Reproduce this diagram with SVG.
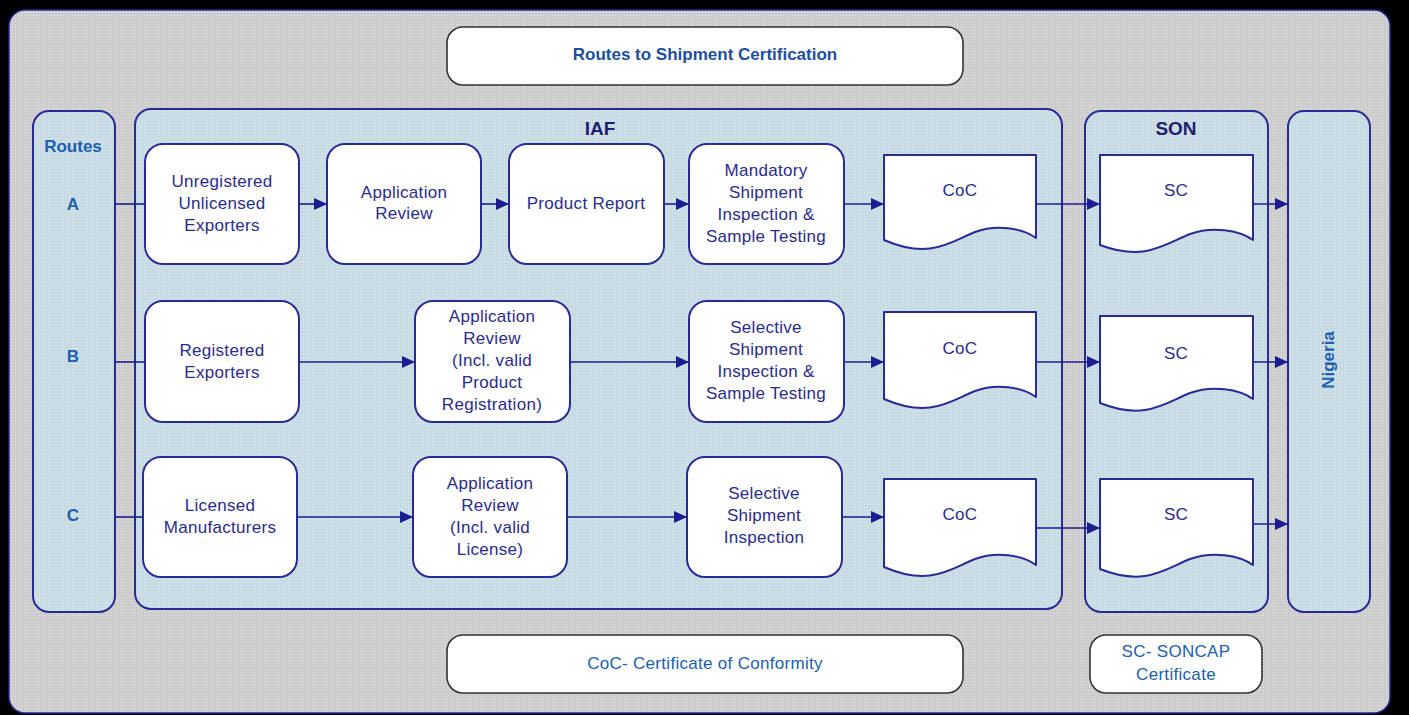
<svg xmlns="http://www.w3.org/2000/svg" width="1409" height="715" viewBox="0 0 1409 715">
<defs>
<pattern id="pg" width="3" height="3" patternUnits="userSpaceOnUse"><rect width="3" height="3" fill="#c9c9c9"/><rect width="1" height="1" fill="#ececec"/><rect x="1.5" y="1.5" width="1" height="1" fill="#dedede"/></pattern>
<pattern id="pb" width="3" height="3" patternUnits="userSpaceOnUse"><rect width="3" height="3" fill="#c5d9e2"/><rect width="1" height="1" fill="#e6eef2"/><rect x="1.5" y="1.5" width="1" height="1" fill="#d6e2e8"/></pattern>
<marker id="ah" viewBox="0 0 10 10" refX="10" refY="5" markerWidth="13" markerHeight="12" markerUnits="userSpaceOnUse" orient="auto" preserveAspectRatio="none"><path d="M0,0 L10,5 L0,10 Z" fill="#1c1c90"/></marker>
<style>
.panel{fill:url(#pb);stroke:#2a2a96;stroke-width:2}
.box{fill:#fff;stroke:#2a2a96;stroke-width:2}
.doc{fill:#fff;stroke:#2a2a96;stroke-width:2;stroke-linejoin:round}
.leg{fill:#fff;stroke:#333;stroke-width:1.6}
.t{font-family:"Liberation Sans",Arial,sans-serif;font-size:17px;fill:#2b2b8c;text-anchor:middle;letter-spacing:0.3px}
.lb{font-family:"Liberation Sans",Arial,sans-serif;font-size:17px;fill:#2060b0;text-anchor:middle;font-weight:bold}
.tt{font-family:"Liberation Sans",Arial,sans-serif;font-size:17px;fill:#1d4f9e;text-anchor:middle;font-weight:bold}
.ln{font-family:"Liberation Sans",Arial,sans-serif;font-size:17px;fill:#2060b0;text-anchor:middle;letter-spacing:0.3px}
.hd{font-family:"Liberation Sans",Arial,sans-serif;font-size:19px;fill:#1f1f70;text-anchor:middle;font-weight:bold}
.c{fill:none;stroke:#1c1c90;stroke-width:1.6}
.ca{fill:none;stroke:#1c1c90;stroke-width:1.6;marker-end:url(#ah)}
</style>
</defs>
<rect width="1409" height="715" fill="#000"/>
<rect x="9" y="10" width="1381" height="703" rx="16" fill="url(#pg)" stroke="#2a2a96" stroke-width="1.5"/>

<g id="title"><rect class="leg" x="447" y="27" width="516" height="58" rx="16"/><text class="tt" x="705" y="60">Routes to Shipment Certification</text></g>

<g id="routes"><rect class="panel" x="33" y="111" width="82" height="501" rx="16"/>
<text class="lb" x="73" y="152">Routes</text><text class="lb" x="73" y="210">A</text><text class="lb" x="73" y="362">B</text><text class="lb" x="73" y="521">C</text></g>

<g id="iaf"><rect class="panel" x="135" y="109" width="927" height="500" rx="16"/><text class="hd" x="600" y="135">IAF</text></g>
<g id="son"><rect class="panel" x="1085" y="111" width="183" height="501" rx="16"/><text class="hd" x="1176" y="135">SON</text></g>
<g id="nigeria"><rect class="panel" x="1288" y="111" width="82" height="501" rx="16"/><text class="lb" transform="translate(1334,360) rotate(-90)">Nigeria</text></g>

<g id="connectors">
<path class="c" d="M115,204 H145"/><path class="c" d="M115,362 H145"/><path class="c" d="M115,517 H143"/>
<path class="ca" d="M299,204 H327"/><path class="ca" d="M481,204 H509"/><path class="ca" d="M664,204 H689"/><path class="ca" d="M844,204 H884"/><path class="ca" d="M1036,204 H1100"/><path class="ca" d="M1253,204 H1288"/>
<path class="ca" d="M299,362 H415"/><path class="ca" d="M570,362 H689"/><path class="ca" d="M844,362 H884"/><path class="ca" d="M1036,362 H1100"/><path class="ca" d="M1253,362 H1288"/>
<path class="ca" d="M297,517 H413"/><path class="ca" d="M567,517 H687"/><path class="ca" d="M842,517 H884"/><path class="ca" d="M1036,528 H1100"/><path class="ca" d="M1253,524 H1288"/>
</g>

<g id="a1"><rect class="box" x="145" y="144" width="154" height="120" rx="18"/><text class="t" x="222" y="187">Unregistered</text><text class="t" x="222" y="209">Unlicensed</text><text class="t" x="222" y="231">Exporters</text></g>
<g id="a2"><rect class="box" x="327" y="144" width="154" height="120" rx="18"/><text class="t" x="404" y="198">Application</text><text class="t" x="404" y="219">Review</text></g>
<g id="a3"><rect class="box" x="509" y="144" width="155" height="120" rx="18"/><text class="t" x="586" y="209">Product Report</text></g>
<g id="a4"><rect class="box" x="689" y="144" width="155" height="120" rx="18"/><text class="t" x="766" y="176">Mandatory</text><text class="t" x="766" y="198">Shipment</text><text class="t" x="766" y="220">Inspection &amp;</text><text class="t" x="766" y="242">Sample Testing</text></g>
<g id="a5"><path class="doc" d="M884,155 H1036 V238 C1022,228 996,224 975,232 C950,242 930,260 884,240 Z"/><text class="t" x="960" y="196">CoC</text></g>
<g id="a6"><path class="doc" d="M1100,155 H1253 V240 C1239,230 1212,226 1190,234 C1165,244 1145,262 1100,245 Z"/><text class="t" x="1176" y="196">SC</text></g>

<g id="b1"><rect class="box" x="145" y="301" width="154" height="121" rx="18"/><text class="t" x="222" y="356">Registered</text><text class="t" x="222" y="378">Exporters</text></g>
<g id="b2"><rect class="box" x="415" y="301" width="155" height="121" rx="18"/><text class="t" x="492" y="322">Application</text><text class="t" x="492" y="344">Review</text><text class="t" x="492" y="366">(Incl. valid</text><text class="t" x="492" y="388">Product</text><text class="t" x="492" y="410">Registration)</text></g>
<g id="b3"><rect class="box" x="689" y="301" width="155" height="121" rx="18"/><text class="t" x="766" y="333">Selective</text><text class="t" x="766" y="355">Shipment</text><text class="t" x="766" y="377">Inspection &amp;</text><text class="t" x="766" y="399">Sample Testing</text></g>
<g id="b4"><path class="doc" d="M884,312 H1036 V397 C1022,387 996,383 975,391 C950,401 930,419 884,399 Z"/><text class="t" x="960" y="354">CoC</text></g>
<g id="b5"><path class="doc" d="M1100,316 H1253 V399 C1239,389 1212,385 1190,393 C1165,403 1145,421 1100,403 Z"/><text class="t" x="1176" y="359">SC</text></g>

<g id="c1"><rect class="box" x="143" y="457" width="154" height="120" rx="18"/><text class="t" x="220" y="511">Licensed</text><text class="t" x="220" y="533">Manufacturers</text></g>
<g id="c2"><rect class="box" x="413" y="457" width="154" height="120" rx="18"/><text class="t" x="490" y="489">Application</text><text class="t" x="490" y="511">Review</text><text class="t" x="490" y="533">(Incl. valid</text><text class="t" x="490" y="555">License)</text></g>
<g id="c3"><rect class="box" x="687" y="457" width="155" height="120" rx="18"/><text class="t" x="764" y="499">Selective</text><text class="t" x="764" y="521">Shipment</text><text class="t" x="764" y="543">Inspection</text></g>
<g id="c4"><path class="doc" d="M884,479 H1036 V565 C1022,555 996,551 975,559 C950,569 930,587 884,567 Z"/><text class="t" x="960" y="520">CoC</text></g>
<g id="c5"><path class="doc" d="M1100,479 H1253 V565 C1239,555 1212,551 1190,559 C1165,569 1145,587 1100,569 Z"/><text class="t" x="1176" y="520">SC</text></g>

<g id="legend-coc"><rect class="leg" x="447" y="635" width="516" height="58" rx="16"/><text class="ln" x="705" y="669">CoC- Certificate of Conformity</text></g>
<g id="legend-sc"><rect class="leg" x="1090" y="635" width="172" height="58" rx="16"/><text class="ln" x="1176" y="657">SC- SONCAP</text><text class="ln" x="1176" y="680">Certificate</text></g>
</svg>
